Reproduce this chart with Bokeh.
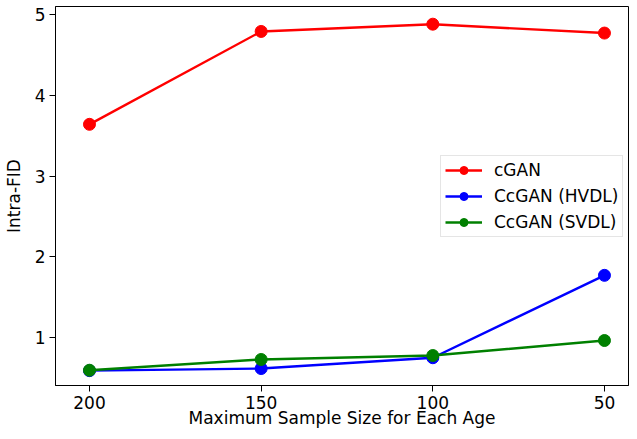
from bokeh.plotting import figure
from bokeh.models import Range1d, FixedTicker, ColumnDataSource, Legend, LegendItem
from bokeh.embed import file_html
from bokeh.resources import INLINE

sample_sizes = ["200", "150", "100", "50"]
cgan = [3.64, 4.79, 4.88, 4.77]
ccgan_hvdl = [0.59, 0.616, 0.75, 1.77]
ccgan_svdl = [0.595, 0.728, 0.777, 0.963]

series_names = ["cGAN", "CcGAN (HVDL)", "CcGAN (SVDL)"]
series_colors = ["#ff0000", "#0000ff", "#008000"]
series_values = [cgan, ccgan_hvdl, ccgan_svdl]

FONT = "DejaVu Sans"
FS = "17px"

xs = list(range(len(sample_sizes)))

p = figure(width=629, height=431, output_backend="svg", toolbar_location=None,
           x_range=Range1d(-0.198, 3.14), y_range=Range1d(0.406, 5.099),
           min_border_left=54, min_border_right=1, min_border_top=6, min_border_bottom=46)

p.xgrid.visible = False
p.ygrid.visible = False
p.outline_line_color = "black"
p.outline_line_width = 1
p.background_fill_color = "white"
p.border_fill_color = "white"

items = []
for name, color, vals in zip(series_names, series_colors, series_values):
    src = ColumnDataSource(dict(x=xs, y=vals))
    r1 = p.line("x", "y", source=src, line_color=color, line_width=2.4)
    r2 = p.scatter("x", "y", source=src, size=12, fill_color=color, line_color=color, line_width=1)
    items.append(LegendItem(label=name, renderers=[r1, r2]))

p.xaxis.ticker = FixedTicker(ticks=xs)
p.xaxis.major_label_overrides = {i: s for i, s in zip(xs, sample_sizes)}
p.yaxis.ticker = FixedTicker(ticks=[1, 2, 3, 4, 5])

for ax in (p.xaxis[0], p.yaxis[0]):
    ax.major_label_text_font = FONT
    ax.major_label_text_font_size = FS
    ax.major_label_text_color = "black"
    ax.axis_label_text_font = FONT
    ax.axis_label_text_font_size = FS
    ax.axis_label_text_font_style = "normal"
    ax.axis_label_text_color = "black"
    ax.minor_tick_line_color = None
    ax.major_tick_out = 6
    ax.major_tick_in = 0
    ax.major_tick_line_color = "black"
    ax.axis_line_color = "black"

p.xaxis.axis_label = "Maximum Sample Size for Each Age"
p.yaxis.axis_label = "Intra-FID"
p.xaxis.major_label_standoff = 4
p.xaxis.axis_label_standoff = -4
p.yaxis.major_label_standoff = 4
p.yaxis.axis_label_standoff = 8

legend = Legend(items=items, location=(385, 148))
legend.label_text_font = FONT
legend.label_text_font_size = FS
legend.label_text_color = "black"
legend.glyph_width = 37
legend.glyph_height = 20
legend.label_height = 20
legend.label_standoff = 12
legend.spacing = 6
legend.padding = 4
legend.margin = 0
legend.border_line_color = "#cccccc"
legend.border_line_width = 1
legend.background_fill_color = "white"
legend.background_fill_alpha = 0.8
p.add_layout(legend, "center")

open("out.html", "w").write(file_html(p, INLINE))
